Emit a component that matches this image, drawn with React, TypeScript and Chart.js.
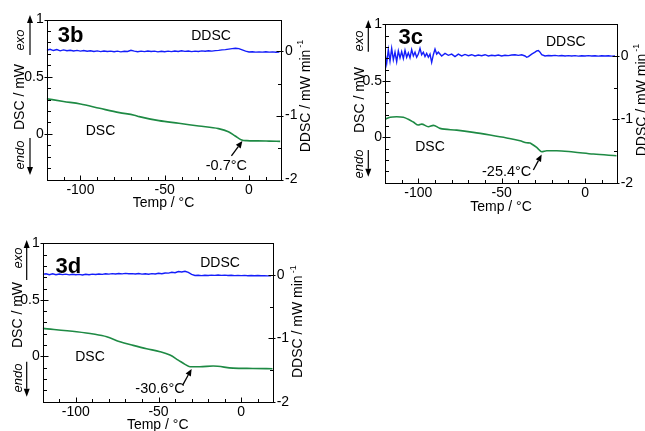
import React, { useEffect, useRef } from 'react';
import { Chart, registerables } from 'chart.js';

Chart.register(...registerables);

const FONT = '"Liberation Sans", Arial, Helvetica, sans-serif';
const BLUE = 'rgb(20, 30, 250)';
const GREEN = 'rgb(30, 138, 68)';

// ---- axes (shared by all panels) ----
const X_MIN = -120;
const X_MAX = 19;
const DSC_MIN = -0.4;
const DSC_MAX = 1;
const DDSC_MIN = -2;
const DDSC_MAX = 0.5;
const xTickValues = [-100, -50, 0];
const xMinorTicks = [-110, -90, -80, -70, -60, -40, -30, -20, -10, 10];
const dscTickValues = [0, 0.5, 1];
const dscMinorTicks = [-0.3, -0.2, -0.1, 0.1, 0.2, 0.3, 0.4, 0.6, 0.7, 0.8, 0.9];
const ddscTickValues = [-2, -1, 0];
const ddscMinorTicks = [-1.5, -0.5];

// ---- panel 3b ----
const dscB_T = [-120, -110, -100, -88.6, -76.9, -68, -65.1, -53.4, -41.6, -29.8, -18.1, -12.2, -8.2, -4.3, -1.3, 5, 12, 18.5];
const dscB_V = [0.307, 0.283, 0.261, 0.223, 0.185, 0.163, 0.15, 0.115, 0.092, 0.068, 0.045, 0.018, -0.019, -0.054, -0.06, -0.062, -0.064, -0.066];
const ddscTemps = [
  -120, -118, -116, -114, -112, -110, -108, -106, -104, -102,
  -100, -98, -96, -94, -92, -90, -88, -86, -84, -82,
  -80, -78, -76, -74, -72, -70, -68, -66, -64, -62,
  -60, -58, -56, -54, -52, -50, -48, -46, -44, -42,
  -40, -38, -36, -34, -32, -30, -28, -26, -24, -22,
  -20, -18, -16, -14, -12, -10, -8, -6, -4, -2,
  0, 2, 4, 6, 8, 10, 12, 14, 16, 18,
];
const ddscB_V = [
  0.02, 0.035, 0.015, 0.03, 0.01, 0.025, 0.012, 0.02, 0.008, 0.018,
  0.006, 0.015, 0.004, 0.012, 0.0, 0.01, -0.002, 0.008, 0.0, 0.006,
  -0.004, 0.005, -0.006, 0.004, 0.0, 0.018, 0.005, -0.004, 0.006, -0.002,
  0.008, 0.0, 0.006, -0.006, 0.004, -0.004, 0.006, -0.002, 0.008, 0.0,
  0.012, 0.002, 0.008, -0.002, 0.006, 0.0, 0.01, 0.004, 0.012, 0.006,
  0.014, 0.018, 0.025, 0.03, 0.038, 0.045, 0.05, 0.045, 0.025, 0.005,
  -0.008, -0.004, -0.01, -0.006, -0.01, -0.005, -0.01, -0.006, -0.012, -0.008,
];

// ---- panel 3c ----
const dscC_T = [-120, -117, -113, -109, -106, -103, -100, -98, -94, -91, -87, -77, -67, -57, -47, -39, -35, -33, -32, -29, -26, -23, -17, -7, 5, 19];
const dscC_V = [0.16, 0.178, 0.183, 0.178, 0.16, 0.136, 0.11, 0.118, 0.095, 0.107, 0.08, 0.065, 0.045, 0.021, -0.005, -0.029, -0.047, -0.05, -0.058, -0.088, -0.126, -0.117, -0.117, -0.129, -0.147, -0.162];
const ddscC_T = [
  -120, -119, -118, -117, -116, -115, -114, -113, -112, -111, -110, -109, -108, -107, -106, -105, -104,
  -103, -102, -101, -100, -99, -98, -97, -96, -95, -94, -93, -92, -91, -90, -89, -88,
  -86, -84, -82, -80, -78, -76, -74, -72, -70, -68, -66, -64, -62, -60, -58, -56, -54, -52, -50,
  -48, -46, -44, -42, -40, -38, -36,
  -35, -34, -32, -30, -29, -28, -27, -26, -24, -22,
  -20, -18, -16, -14, -12, -10, -8, -6, -4, -2, 0, 2, 4, 6, 8, 10, 12, 14, 16, 18,
];
const ddscC_V = [
  0.05, -0.12, 0.1, -0.08, 0.12, -0.06, 0.06, -0.09, 0.08, -0.03, 0.07, -0.04, 0.09, -0.02, 0.05, -0.03, 0.1,
  0.0, 0.06, -0.02, 0.03, 0.12, 0.02, 0.06, -0.01, 0.04, -0.02, 0.03, -0.1, 0.02, 0.11, 0.03, 0.06,
  0.0, 0.04, 0.01, 0.03, -0.01, 0.03, 0.0, 0.025, 0.005, 0.02, 0.0, 0.015, 0.005, 0.02, 0.0, 0.012, 0.004, 0.015, 0.0,
  0.012, 0.005, 0.015, 0.02, 0.01, 0.018, 0.0,
  -0.02, -0.01, 0.03, 0.06, 0.08, 0.085, 0.06, 0.02, 0.0, 0.008,
  0.004, 0.01, 0.002, 0.008, 0.0, 0.006, 0.0, 0.005, -0.002, 0.004, 0.0, 0.006, 0.0, 0.004, -0.002, 0.004, 0.0, 0.004, -0.002, 0.002,
];

// ---- panel 3d ----
const dscD_T = [-120, -99.5, -89.4, -81.3, -73.3, -65.3, -57.2, -49.1, -43.1, -38.1, -34, -31, -25, -17, -5, 7, 19];
const dscD_V = [0.248, 0.218, 0.198, 0.174, 0.13, 0.098, 0.068, 0.042, 0.012, -0.032, -0.07, -0.091, -0.091, -0.085, -0.103, -0.106, -0.109];
const ddscD_V = [
  0.01, 0.02, 0.005, 0.018, 0.004, 0.016, 0.006, 0.014, 0.002, 0.012,
  0.004, 0.01, 0.0, 0.012, 0.004, 0.014, 0.008, 0.016, 0.01, 0.02,
  0.014, 0.022, 0.016, 0.024, 0.018, 0.026, 0.02, 0.022, 0.016, 0.024,
  0.014, 0.02, 0.012, 0.022, 0.016, 0.026, 0.02, 0.032, 0.03, 0.042,
  0.036, 0.055, 0.048, 0.058, 0.04, 0.01, -0.008, -0.004, -0.01, -0.004,
  -0.008, -0.002, -0.006, 0.0, -0.006, -0.002, -0.008, -0.004, -0.01, -0.006,
  -0.01, -0.006, -0.012, -0.008, -0.012, -0.008, -0.012, -0.01, -0.014, -0.012,
];

// ---- glass transition labels ----
const tgLabels = ['-0.7°C', '-25.4°C', '-30.6°C'];
const panelNames = ['3b', '3c', '3d'];

type Pt = [number, number];
interface Layout {
  left: number; top: number; width: number; height: number;
  area: { l: number; t: number; r: number; b: number };
  nameAt: Pt; ddscAt: Pt; dscAt: Pt;
  yTitle: Pt; exo: Pt; endo: Pt; arrowX: number; up: [number, number]; down: [number, number];
  y2Title: Pt; xTitle: Pt;
  tgTip: Pt; tgTail: Pt; tgText: Pt;
}
interface Series { dscT: number[]; dscV: number[]; ddscT: number[]; ddscV: number[]; name: string; tg: string }

const layouts: Layout[] = [
  {
    left: 0, top: 0, width: 320, height: 215,
    area: { l: 46.7, t: 19.5, r: 281, b: 179.5 },
    nameAt: [70.5, 36], ddscAt: [211, 36], dscAt: [100.5, 131],
    yTitle: [20, 97], exo: [20.7, 40], endo: [20.7, 155], arrowX: 30, up: [55, 15], down: [138, 175],
    y2Title: [306, 96], xTitle: [163.5, 203],
    tgTip: [-3.9, -0.063], tgTail: [-10.4, -0.194], tgText: [-13.4, -0.283],
  },
  {
    left: 340, top: 0, width: 305, height: 215,
    area: { l: 45, t: 24.3, r: 276.7, b: 182.7 },
    nameAt: [70.8, 38.3], ddscAt: [225.8, 41.7], dscAt: [90, 146.7],
    yTitle: [20, 100], exo: [19, 41], endo: [19, 164], arrowX: 28.3, up: [51.7, 20], down: [150, 176.7],
    y2Title: [301.7, 100], xTitle: [161, 206.7],
    tgTip: [-26, -0.15], tgTail: [-31, -0.288], tgText: [-47, -0.303],
  },
  {
    left: 0, top: 230, width: 320, height: 201,
    area: { l: 42.7, t: 13.3, r: 272.7, b: 171.7 },
    nameAt: [68.3, 37], ddscAt: [220, 33.3], dscAt: [90, 126.7],
    yTitle: [18.3, 85], exo: [18.3, 28], endo: [18.3, 148], arrowX: 26.7, up: [50, 10], down: [131.7, 166.7],
    y2Title: [298.3, 91.7], xTitle: [157.7, 195],
    tgTip: [-30, -0.11], tgTail: [-35.4, -0.253], tgText: [-49.1, -0.288],
  },
];

const seriesList: Series[] = [
  { dscT: dscB_T, dscV: dscB_V, ddscT: ddscTemps, ddscV: ddscB_V, name: panelNames[0], tg: tgLabels[0] },
  { dscT: dscC_T, dscV: dscC_V, ddscT: ddscC_T, ddscV: ddscC_V, name: panelNames[1], tg: tgLabels[1] },
  { dscT: dscD_T, dscV: dscD_V, ddscT: ddscTemps, ddscV: ddscD_V, name: panelNames[2], tg: tgLabels[2] },
];

function zip(xs: number[], ys: number[]) {
  return xs.map((x, i) => ({ x, y: ys[i] }));
}

function drawArrow(ctx: CanvasRenderingContext2D, x1: number, y1: number, x2: number, y2: number, head = 8, half = 3) {
  const ang = Math.atan2(y2 - y1, x2 - x1);
  const bx = x2 - head * Math.cos(ang);
  const by = y2 - head * Math.sin(ang);
  ctx.beginPath();
  ctx.moveTo(x1, y1);
  ctx.lineTo(bx, by);
  ctx.stroke();
  ctx.beginPath();
  ctx.moveTo(x2, y2);
  ctx.lineTo(bx + half * Math.sin(ang), by - half * Math.cos(ang));
  ctx.lineTo(bx - half * Math.sin(ang), by + half * Math.cos(ang));
  ctx.closePath();
  ctx.fill();
}

function rotText(ctx: CanvasRenderingContext2D, text: string, cx: number, cy: number) {
  ctx.save();
  ctx.translate(cx, cy);
  ctx.rotate(-Math.PI / 2);
  ctx.textAlign = 'center';
  ctx.textBaseline = 'middle';
  ctx.fillText(text, 0, 0);
  ctx.restore();
}

function decorPlugin(L: Layout, S: Series) {
  return {
    id: 'decor',
    afterDraw(chart: any) {
      const { ctx, chartArea: a, scales } = chart;
      const xs = scales.x, ys = scales.y, y2s = scales.y2;
      const px = (v: number) => Math.round(v) + 0.5;
      ctx.save();
      ctx.strokeStyle = '#000';
      ctx.fillStyle = '#000';
      ctx.lineWidth = 1;
      // frame
      const l = px(a.left), t = px(a.top), r = px(a.right), b = px(a.bottom);
      ctx.strokeRect(l, t, r - l, b - t);
      // tick marks (inward)
      ctx.beginPath();
      for (const v of dscTickValues) { const yy = px(ys.getPixelForValue(v)); ctx.moveTo(l - 3, yy); ctx.lineTo(l + 5, yy); }
      for (const v of dscMinorTicks) { const yy = px(ys.getPixelForValue(v)); ctx.moveTo(l, yy); ctx.lineTo(l + 3.5, yy); }
      for (const v of ddscTickValues) { const yy = px(y2s.getPixelForValue(v)); ctx.moveTo(r - 5, yy); ctx.lineTo(r + 2, yy); }
      for (const v of ddscMinorTicks) { const yy = px(y2s.getPixelForValue(v)); ctx.moveTo(r - 3.5, yy); ctx.lineTo(r, yy); }
      for (const v of xTickValues) { const xx = px(xs.getPixelForValue(v)); ctx.moveTo(xx, b); ctx.lineTo(xx, b - 5); }
      for (const v of xMinorTicks) { const xx = px(xs.getPixelForValue(v)); ctx.moveTo(xx, b); ctx.lineTo(xx, b - 3.5); }
      ctx.stroke();

      // panel name
      ctx.font = `bold 22px ${FONT}`;
      ctx.textAlign = 'center';
      ctx.textBaseline = 'middle';
      ctx.fillText(S.name, L.nameAt[0], L.nameAt[1]);
      // curve labels
      ctx.font = `14px ${FONT}`;
      ctx.fillText('DDSC', L.ddscAt[0], L.ddscAt[1]);
      ctx.fillText('DSC', L.dscAt[0], L.dscAt[1]);
      // x title
      ctx.fillText('Temp / °C', L.xTitle[0], L.xTitle[1]);
      // y title
      rotText(ctx, 'DSC / mW', L.yTitle[0], L.yTitle[1]);
      // exo / endo
      ctx.font = `italic 13px ${FONT}`;
      rotText(ctx, 'exo', L.exo[0], L.exo[1]);
      rotText(ctx, 'endo', L.endo[0], L.endo[1]);
      ctx.lineWidth = 1.2;
      drawArrow(ctx, L.arrowX, L.up[0], L.arrowX, L.up[1], 8, 3);
      drawArrow(ctx, L.arrowX, L.down[0], L.arrowX, L.down[1], 8, 3);
      // right title with superscript
      ctx.save();
      ctx.translate(L.y2Title[0], L.y2Title[1]);
      ctx.rotate(-Math.PI / 2);
      ctx.textAlign = 'left';
      ctx.textBaseline = 'middle';
      ctx.font = `14px ${FONT}`;
      const main = 'DDSC / mW min';
      const w1 = ctx.measureText(main).width;
      ctx.font = `9px ${FONT}`;
      const sup = '-1';
      const w2 = ctx.measureText(sup).width + 2;
      const start = -(w1 + w2) / 2;
      ctx.font = `14px ${FONT}`;
      ctx.fillText(main, start, 0);
      ctx.font = `9px ${FONT}`;
      ctx.fillText(sup, start + w1 + 2, -5);
      ctx.restore();
      // Tg annotation
      const tip = [xs.getPixelForValue(L.tgTip[0]), ys.getPixelForValue(L.tgTip[1])];
      const tail = [xs.getPixelForValue(L.tgTail[0]), ys.getPixelForValue(L.tgTail[1])];
      ctx.lineWidth = 1.3;
      drawArrow(ctx, tail[0], tail[1], tip[0], tip[1], 7, 3);
      ctx.font = `14.5px ${FONT}`;
      ctx.textAlign = 'center';
      ctx.textBaseline = 'middle';
      ctx.fillText(S.tg, xs.getPixelForValue(L.tgText[0]), ys.getPixelForValue(L.tgText[1]));
      ctx.restore();
    },
  };
}

function Panel({ L, S }: { L: Layout; S: Series }) {
  const ref = useRef<HTMLCanvasElement>(null);
  useEffect(() => {
    const tickFont = { family: FONT, size: 14 };
    const chart = new Chart(ref.current as HTMLCanvasElement, {
      type: 'line',
      data: {
        datasets: [
          {
            label: 'DDSC', data: zip(S.ddscT, S.ddscV), yAxisID: 'y2',
            borderColor: BLUE, borderWidth: 1.4, pointRadius: 0, tension: 0, fill: false,
          },
          {
            label: 'DSC', data: zip(S.dscT, S.dscV), yAxisID: 'y',
            borderColor: GREEN, borderWidth: 1.6, pointRadius: 0, cubicInterpolationMode: 'monotone', fill: false,
          },
        ],
      },
      options: {
        animation: false,
        responsive: false,
        maintainAspectRatio: false,
        events: [],
        layout: { padding: { top: L.area.t, left: 0, right: 0, bottom: 0 } },
        plugins: { legend: { display: false }, tooltip: { enabled: false } },
        scales: {
          x: {
            type: 'linear', position: 'bottom', min: X_MIN, max: X_MAX,
            grid: { display: false, drawTicks: false }, border: { display: false },
            afterFit: (sc: any) => { sc.height = L.height - L.area.b; },
            afterBuildTicks: (sc: any) => { sc.ticks = xTickValues.map((v) => ({ value: v })); },
            ticks: { autoSkip: false, maxRotation: 0, minRotation: 0, padding: 2, color: '#000', font: tickFont, callback: (v: any) => String(v) },
          },
          y: {
            type: 'linear', position: 'left', min: DSC_MIN, max: DSC_MAX,
            grid: { display: false, drawTicks: false }, border: { display: false },
            afterFit: (sc: any) => { sc.width = L.area.l; },
            afterBuildTicks: (sc: any) => { sc.ticks = dscTickValues.map((v) => ({ value: v })); },
            ticks: { autoSkip: false, padding: 3, color: '#000', font: tickFont, callback: (v: any) => String(v) },
          },
          y2: {
            type: 'linear', position: 'right', min: DDSC_MIN, max: DDSC_MAX,
            grid: { display: false, drawTicks: false }, border: { display: false },
            afterFit: (sc: any) => { sc.width = L.width - L.area.r; },
            afterBuildTicks: (sc: any) => { sc.ticks = ddscTickValues.map((v) => ({ value: v })); },
            ticks: { autoSkip: false, padding: 4, color: '#000', font: tickFont, callback: (v: any) => String(v) },
          },
        },
      } as any,
      plugins: [decorPlugin(L, S)],
    });
    return () => chart.destroy();
  }, []);
  return (
    <canvas
      ref={ref}
      width={L.width}
      height={L.height}
      style={{ position: 'absolute', left: L.left, top: L.top, width: L.width, height: L.height, display: 'block' }}
    />
  );
}

export default function App() {
  return (
    <div style={{ position: 'absolute', left: 0, top: 0, width: 645, height: 431, background: '#fff', overflow: 'hidden' }}>
      {layouts.map((L, i) => (
        <Panel key={i} L={L} S={seriesList[i]} />
      ))}
    </div>
  );
}
